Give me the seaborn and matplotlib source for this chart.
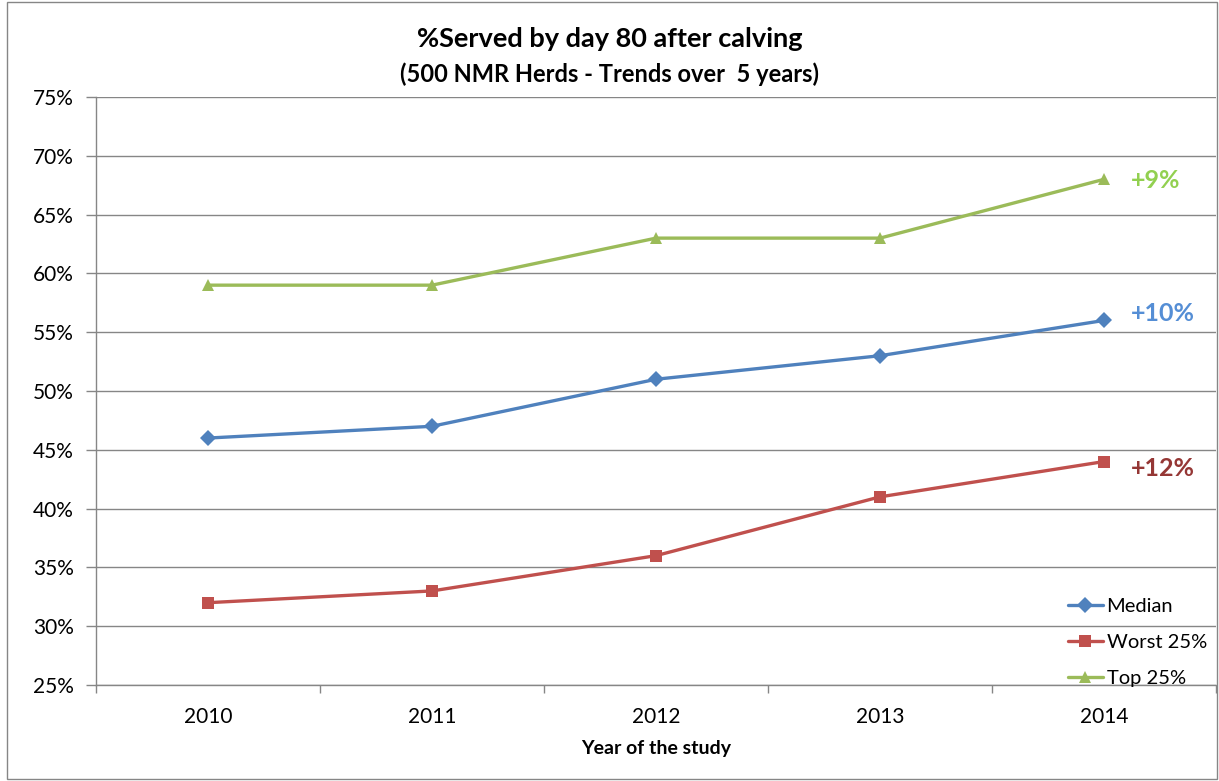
import pandas as pd
import matplotlib.pyplot as plt
import matplotlib.patches as mpatches
from matplotlib.ticker import FixedLocator, PercentFormatter
import seaborn as sns

# data
years = ["2010", "2011", "2012", "2013", "2014"]
median = [46, 47, 51, 53, 56]
worst25 = [32, 33, 36, 41, 44]
top25 = [59, 59, 63, 63, 68]
series_names = ["Median", "Worst 25%", "Top 25%"]
changes = ["+10%", "+12%", "+9%"]
change_y = [56.6, 43.4, 67.9]

colors = {"Median": "#4F81BD", "Worst 25%": "#C0504D", "Top 25%": "#9BBB59"}
markers = {"Median": "D", "Worst 25%": "s", "Top 25%": "^"}
label_colors = ["#558ED5", "#953735", "#92D050"]

rows = []
for name, vals in zip(series_names, [median, worst25, top25]):
    for i, v in enumerate(vals):
        rows.append({"idx": i, "year": years[i], "value": v, "series": name})
df = pd.DataFrame(rows)

sns.set_theme(style="white")
plt.rcParams["font.family"] = ["Lato", "DejaVu Sans"]
plt.rcParams["text.color"] = "black"
plt.rcParams["xtick.color"] = "black"
plt.rcParams["ytick.color"] = "black"
plt.rcParams["axes.labelcolor"] = "black"

fig = plt.figure(figsize=(12.19, 7.81), dpi=100)
ax = fig.add_axes([0.0788, 0.1229, 0.9187, 0.7529])

sns.lineplot(data=df, x="idx", y="value", hue="series", style="series",
             hue_order=series_names, style_order=series_names,
             palette=colors, markers=markers, dashes=False,
             linewidth=2.4, markersize=8, markeredgewidth=0, ax=ax)

ax.set_xlim(-0.5, 4.5)
ax.set_ylim(25, 75)
ax.yaxis.set_major_locator(FixedLocator(range(25, 80, 5)))
ax.yaxis.set_major_formatter(PercentFormatter(decimals=0))
ax.yaxis.grid(True, color="#868686", linewidth=1)
ax.set_xticks(range(len(years)))
ax.set_xticklabels(years)
ax.xaxis.set_minor_locator(FixedLocator([i - 0.5 for i in range(len(years) + 1)]))
ax.tick_params(axis="x", which="major", length=0, pad=16, labelsize=15)
ax.tick_params(axis="x", which="minor", length=6, color="#868686", width=1,
               direction="out", bottom=True)
ax.tick_params(axis="y", length=7, color="#868686", width=1, direction="out",
               left=True, labelsize=15, pad=9)

for side in ["top", "right"]:
    ax.spines[side].set_visible(False)
for side in ["left", "bottom"]:
    ax.spines[side].set_color("#868686")
    ax.spines[side].set_linewidth(1)

ax.set_xlabel("Year of the study", fontsize=14, fontweight="bold", labelpad=9)
ax.set_ylabel("")

for txt, yv, c in zip(changes, change_y, label_colors):
    ax.text(4.12, yv, txt, color=c, fontsize=18, fontweight="bold",
            ha="left", va="center")

fig.text(0.5, 0.950, "%Served by day 80 after calving", ha="center", va="center",
         fontsize=19.5, fontweight="bold")
fig.text(0.5, 0.905, "(500 NMR Herds - Trends over  5 years)", ha="center",
         va="center", fontsize=17, fontweight="bold")

leg = ax.legend(loc="lower right", frameon=False, fontsize=14.5,
                bbox_to_anchor=(1.008, -0.035), handlelength=1.7,
                handletextpad=0.2, labelspacing=0.95)

fig.patches.append(mpatches.Rectangle((0.006, 0.002), 0.992, 0.996,
                                      transform=fig.transFigure, fill=False,
                                      edgecolor="#868686", linewidth=1))

plt.savefig("out.png", dpi=100)
